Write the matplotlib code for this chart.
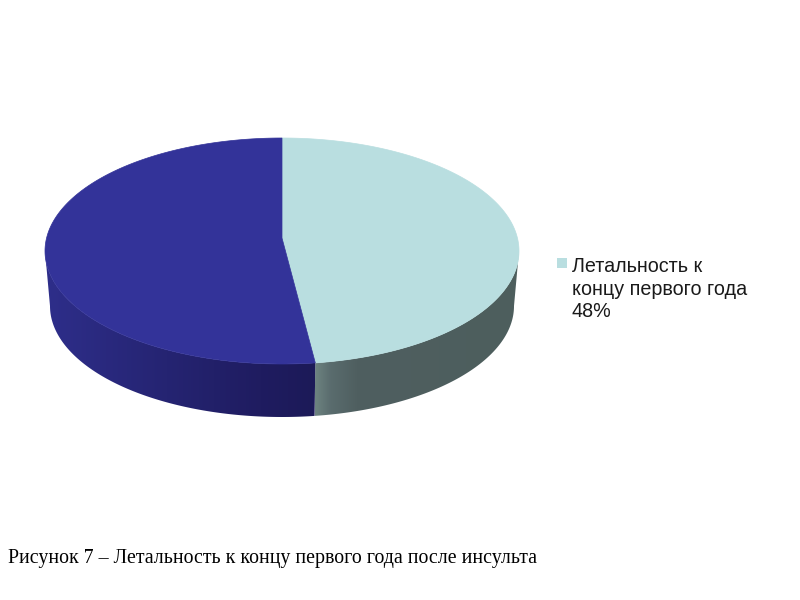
import numpy as np
import matplotlib
matplotlib.use("Agg")
import matplotlib.pyplot as plt
from matplotlib.patches import Polygon, Rectangle
from matplotlib.colors import LinearSegmentedColormap

shares = [48, 52]
legend_label = "Летальность к\nконцу первого года\n48%"
caption = "Рисунок 7 – Летальность к концу первого года после инсульта"
top_colors = ["#B9DEE0", "#333399"]

CX, CY, RX, RY = 282, 251, 237, 113
BCX, BCY, BRX, BRY = 282, 306, 232, 111
K = 0.115  # perspective: centre of the disc appears above the ellipse centre


def project(theta, cx, cy, rx, ry):
    """Clockwise angle from 12 o'clock on the disc to picture coordinates."""
    X, Y = np.sin(theta), np.cos(theta)
    d = 1 + K * Y
    Xp = X * np.sqrt(1 - K ** 2) / d
    Yp = (Y + K) / d
    return cx + rx * Xp, cy - ry * Yp


fig = plt.figure(figsize=(8, 6), dpi=100, facecolor="white")
ax = fig.add_axes([0, 0, 1, 1])

side_cmaps = [
    LinearSegmentedColormap.from_list("teal", [(0, "#6C827F"), (0.07, "#5A6C6E"), (0.2, "#4F5F60"), (1, "#4D5E5D")]),
    LinearSegmentedColormap.from_list("blue", [(0, "#1C1A58"), (0.2, "#1F1C60"), (0.55, "#252472"), (1, "#2E2E8A")]),
]

edges = np.cumsum([0] + shares) / sum(shares) * 2 * np.pi
apex_x, apex_y = CX, CY - RY * K
# Silhouette of the projected disc: where the picture x is extreme
sil = np.arccos(-K)
boundary_x = project(edges[1], CX, CY, RX, RY)[0]

# Visible rim, cut at the slice boundary, filled with a horizontal gradient
for i in range(len(shares)):
    lo, hi = max(edges[i], sil), min(edges[i + 1], 2 * np.pi - sil)
    if lo >= hi:
        continue
    t = np.linspace(lo, hi, 200)
    xt, yt = project(t, CX, CY, RX, RY)
    xb, yb = project(t, BCX, BCY, BRX, BRY)
    pts = np.column_stack([np.r_[xt, xb[::-1]], np.r_[yt, yb[::-1]]])
    rim = Polygon(pts, closed=True, facecolor="none", edgecolor="none")
    ax.add_patch(rim)
    left, right = pts[:, 0].min(), pts[:, 0].max()
    xs = np.linspace(left, right, 600)
    grad = np.abs(xs - boundary_x) / (right - left)
    im = ax.imshow(grad[np.newaxis, :], cmap=side_cmaps[i], vmin=0, vmax=1, aspect="auto",
                   extent=(left, right, pts[:, 1].max(), pts[:, 1].min()), interpolation="bilinear")
    im.set_clip_path(rim)

# Top face
for i in range(len(shares)):
    t = np.linspace(edges[i], edges[i + 1], 300)
    x, y = project(t, CX, CY, RX, RY)
    pts = np.column_stack([np.r_[apex_x, x], np.r_[apex_y, y]])
    ax.add_patch(Polygon(pts, closed=True, facecolor=top_colors[i], edgecolor=top_colors[i], linewidth=0.5, zorder=3))

ax.set_xlim(0, 800)
ax.set_ylim(600, 0)
ax.axis("off")

# Legend
ax.add_patch(Rectangle((557, 258), 10, 10, facecolor=top_colors[0], edgecolor="none"))
ax.text(572, 257, legend_label, family="Liberation Sans", fontsize=14.2, color="#1a1a1a",
        va="top", ha="left", linespacing=1.24)

# Caption
ax.text(8, 558.5, caption, family="Liberation Serif", fontsize=14.3, color="black", va="center", ha="left")

fig.savefig("out.png", dpi=100, facecolor="white")
